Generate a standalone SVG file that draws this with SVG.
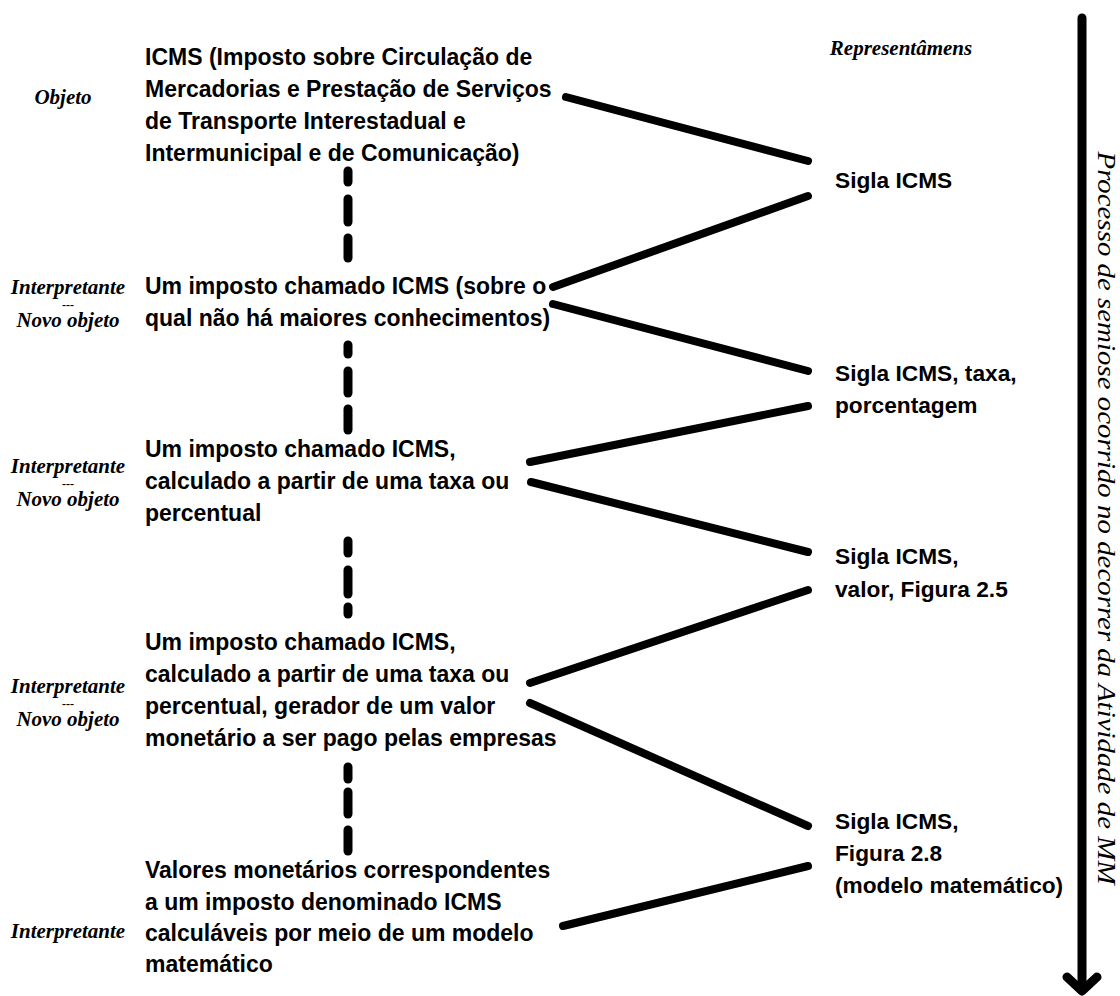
<svg xmlns="http://www.w3.org/2000/svg" width="1120" height="996" viewBox="0 0 1120 996">
  <style>
    .main { font-family: "Liberation Sans", Arial, sans-serif; font-weight: bold; font-size: 23px; fill: #000; }
    .rep { font-family: "Liberation Sans", Arial, sans-serif; font-weight: bold; font-size: 22.7px; fill: #000; }
    .lab { font-family: "Liberation Serif", "Times New Roman", serif; font-weight: bold; font-style: italic; font-size: 21px; fill: #000; text-anchor: middle; }
    .sep { font-family: "Liberation Serif", "Times New Roman", serif; font-weight: bold; font-size: 12px; fill: #000; text-anchor: middle; }
    .axis { font-family: "Liberation Serif", "Times New Roman", serif; font-style: italic; font-size: 25px; fill: #000; text-anchor: middle; }
    .zig { stroke: #000; stroke-width: 8; stroke-linecap: round; fill: none; }
    .dash { stroke: #000; stroke-width: 9; stroke-linecap: round; fill: none; }
    .arrow { stroke: #000; stroke-width: 9; stroke-linecap: round; stroke-linejoin: round; fill: none; }
  </style>
  <rect width="1120" height="996" fill="#fff"/>

  <!-- left column: objects / interpretants -->
  <g id="objeto">
    <text class="lab" x="63" y="104">Objeto</text>
    <text class="main" x="145" y="65">ICMS (Imposto sobre Circulação de</text>
    <text class="main" x="145" y="97">Mercadorias e Prestação de Serviços</text>
    <text class="main" x="145" y="129">de Transporte Interestadual e</text>
    <text class="main" x="145" y="161">Intermunicipal e de Comunicação)</text>
  </g>

  <g id="interpretante1">
    <text class="lab" x="68" y="294">Interpretante</text>
    <text class="sep" x="68" y="309">---</text>
    <text class="lab" x="68" y="327">Novo objeto</text>
    <text class="main" x="145" y="294">Um imposto chamado ICMS (sobre o</text>
    <text class="main" x="145" y="326">qual não há maiores conhecimentos)</text>
  </g>

  <g id="interpretante2">
    <text class="lab" x="68" y="473">Interpretante</text>
    <text class="sep" x="68" y="488">---</text>
    <text class="lab" x="68" y="506">Novo objeto</text>
    <text class="main" x="145" y="457">Um imposto chamado ICMS,</text>
    <text class="main" x="145" y="489">calculado a partir de uma taxa ou</text>
    <text class="main" x="145" y="521">percentual</text>
  </g>

  <g id="interpretante3">
    <text class="lab" x="68" y="693">Interpretante</text>
    <text class="sep" x="68" y="708">---</text>
    <text class="lab" x="68" y="726">Novo objeto</text>
    <text class="main" x="145" y="650">Um imposto chamado ICMS,</text>
    <text class="main" x="145" y="682">calculado a partir de uma taxa ou</text>
    <text class="main" x="145" y="714">percentual, gerador de um valor</text>
    <text class="main" x="145" y="746">monetário a ser pago pelas empresas</text>
  </g>

  <g id="interpretante4">
    <text class="lab" x="68" y="938">Interpretante</text>
    <text class="main" x="145" y="878">Valores monetários correspondentes</text>
    <text class="main" x="145" y="910">a um imposto denominado ICMS</text>
    <text class="main" x="145" y="941">calculáveis por meio de um modelo</text>
    <text class="main" x="145" y="972">matemático</text>
  </g>

  <!-- right column: representamens -->
  <g id="representamens">
    <text class="lab" x="901" y="55">Representâmens</text>
  </g>
  <g id="rep1">
    <text class="rep" x="835" y="188">Sigla ICMS</text>
  </g>
  <g id="rep2">
    <text class="rep" x="835" y="381">Sigla ICMS, taxa,</text>
    <text class="rep" x="835" y="413">porcentagem</text>
  </g>
  <g id="rep3">
    <text class="rep" x="835" y="564">Sigla ICMS,</text>
    <text class="rep" x="835" y="597">valor, Figura 2.5</text>
  </g>
  <g id="rep4">
    <text class="rep" x="835" y="829">Sigla ICMS,</text>
    <text class="rep" x="835" y="861">Figura 2.8</text>
    <text class="rep" x="835" y="893">(modelo matemático)</text>
  </g>

  <!-- process axis -->
  <g id="processo">
    <line class="arrow" x1="1082" y1="18" x2="1082" y2="990"/>
    <polyline class="arrow" points="1067,977 1082,991 1097,977"/>
    <text class="axis" transform="translate(1098,518) rotate(90)" textLength="733" lengthAdjust="spacingAndGlyphs">Processo de semiose ocorrido no decorrer da Atividade de MM</text>
  </g>

  <!-- connectors -->
  <g id="connectors">
    <!-- zigzag between objects and representamens -->
    <line class="zig" x1="566" y1="97" x2="808" y2="161"/>
    <line class="zig" x1="808" y1="196" x2="553" y2="287"/>
    <line class="zig" x1="553" y1="304" x2="808" y2="371"/>
    <line class="zig" x1="808" y1="406" x2="530" y2="462"/>
    <line class="zig" x1="531" y1="482" x2="808" y2="552"/>
    <line class="zig" x1="808" y1="590" x2="530" y2="683"/>
    <line class="zig" x1="530" y1="703" x2="808" y2="826"/>
    <line class="zig" x1="808" y1="866" x2="563" y2="926"/>

    <!-- dashed links between successive interpretants -->
    <line class="dash" x1="348" y1="171" x2="348" y2="182"/>
    <line class="dash" x1="348" y1="199" x2="348" y2="222"/>
    <line class="dash" x1="348" y1="238" x2="348" y2="258"/>

    <line class="dash" x1="348" y1="345" x2="348" y2="354"/>
    <line class="dash" x1="348" y1="371" x2="348" y2="393"/>
    <line class="dash" x1="348" y1="409" x2="348" y2="430"/>

    <line class="dash" x1="348" y1="541" x2="348" y2="553"/>
    <line class="dash" x1="348" y1="570" x2="348" y2="594"/>
    <line class="dash" x1="348" y1="607" x2="348" y2="614"/>

    <line class="dash" x1="348" y1="767" x2="348" y2="779"/>
    <line class="dash" x1="348" y1="792" x2="348" y2="814"/>
    <line class="dash" x1="348" y1="830" x2="348" y2="851"/>
  </g>
</svg>
